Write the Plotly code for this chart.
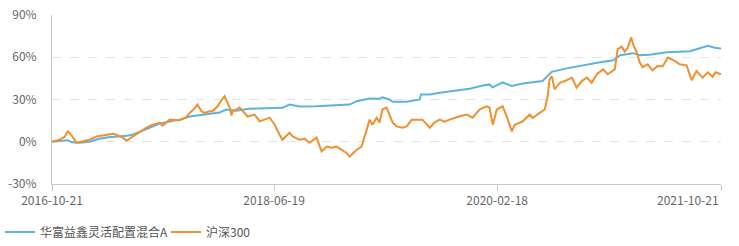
import plotly.graph_objects as go

fund_name = "华富益鑫灵活配置混合A"
index_name = "沪深300"

fund_dates = [
    "2016-10-21", "2016-11-11", "2016-12-03", "2016-12-14", "2017-01-05", "2017-01-31",
    "2017-02-26", "2017-03-25", "2017-04-21", "2017-05-13", "2017-05-29", "2017-06-17",
    "2017-07-06", "2017-07-22", "2017-08-11", "2017-09-07", "2017-10-04", "2017-11-01",
    "2017-11-28", "2017-12-17", "2018-01-07", "2018-01-21", "2018-02-09", "2018-03-08",
    "2018-04-11", "2018-05-22", "2018-07-12", "2018-07-31", "2018-08-28", "2018-10-13",
    "2018-12-07", "2019-01-11", "2019-01-31", "2019-03-07", "2019-04-03", "2019-04-11",
    "2019-04-30", "2019-05-09", "2019-06-16", "2019-07-22", "2019-07-25", "2019-08-18",
    "2019-09-14", "2019-10-19", "2019-12-05", "2020-01-10", "2020-01-28", "2020-02-06",
    "2020-03-04", "2020-03-29", "2020-04-28", "2020-06-21", "2020-07-05", "2020-07-16",
    "2020-08-26", "2020-10-09", "2020-11-25", "2020-12-31", "2021-01-19", "2021-02-23",
    "2021-03-13", "2021-04-09", "2021-05-26", "2021-07-28", "2021-08-24", "2021-09-15",
    "2021-10-04", "2021-10-21",
]
fund_returns = [
    0.0, 0.4, 1.1, -0.4, -0.7, 0.0,
    2.1, 3.2, 3.6, 4.3, 5.0, 7.1,
    9.3, 10.7, 12.9, 14.3, 15.7, 17.9,
    18.9, 19.3, 20.0, 20.7, 22.9, 22.1,
    23.4, 23.6, 24.1, 26.4, 25.0, 25.2,
    25.9, 26.4, 28.8, 30.7, 30.5, 31.6,
    30.0, 28.4, 28.4, 30.0, 33.6, 33.6,
    34.8, 35.9, 37.6, 40.0, 40.7, 38.6,
    42.1, 39.6, 41.4, 43.1, 46.6, 49.6,
    52.1, 54.3, 56.4, 57.9, 61.4, 62.9,
    61.4, 61.8, 63.6, 64.3, 66.4, 68.1,
    66.8, 66.2,
]

index_dates = [
    "2016-10-21", "2016-11-11", "2016-11-25", "2016-12-03", "2016-12-14", "2016-12-27",
    "2017-01-12", "2017-01-31", "2017-02-20", "2017-03-14", "2017-04-05", "2017-04-15",
    "2017-05-02", "2017-05-13", "2017-05-29", "2017-06-17", "2017-07-06", "2017-07-22",
    "2017-08-11", "2017-08-19", "2017-09-07", "2017-10-04", "2017-10-21", "2017-11-01",
    "2017-11-14", "2017-11-22", "2017-12-03", "2017-12-11", "2017-12-25", "2018-01-02",
    "2018-01-16", "2018-01-24", "2018-01-30", "2018-02-04", "2018-02-10", "2018-02-18",
    "2018-02-23", "2018-02-26", "2018-03-17", "2018-03-31", "2018-04-08", "2018-04-27",
    "2018-05-11", "2018-06-07", "2018-06-21", "2018-07-04", "2018-07-12", "2018-07-31",
    "2018-08-09", "2018-08-28", "2018-09-11", "2018-09-24", "2018-10-13", "2018-10-27",
    "2018-11-10", "2018-11-23", "2018-12-07", "2018-12-21", "2019-01-03", "2019-01-11",
    "2019-01-31", "2019-02-13", "2019-02-21", "2019-03-01", "2019-03-07", "2019-03-15",
    "2019-03-26", "2019-04-03", "2019-04-11", "2019-04-22", "2019-04-30", "2019-05-09",
    "2019-05-20", "2019-06-05", "2019-06-16", "2019-06-30", "2019-07-13", "2019-07-29",
    "2019-08-18", "2019-08-31", "2019-09-14", "2019-09-28", "2019-10-11", "2019-10-25",
    "2019-11-08", "2019-11-27", "2019-12-13", "2020-01-01", "2020-01-20", "2020-01-28",
    "2020-02-06", "2020-02-17", "2020-03-04", "2020-03-15", "2020-03-23", "2020-03-29",
    "2020-04-06", "2020-04-28", "2020-05-17", "2020-05-25", "2020-06-13", "2020-06-27",
    "2020-07-05", "2020-07-10", "2020-07-16", "2020-07-24", "2020-08-07", "2020-08-21",
    "2020-09-09", "2020-09-22", "2020-10-06", "2020-10-20", "2020-11-02", "2020-11-16",
    "2020-12-03", "2020-12-16", "2021-01-04", "2021-01-12", "2021-01-23", "2021-01-31",
    "2021-02-08", "2021-02-18", "2021-02-23", "2021-03-05", "2021-03-13", "2021-03-21",
    "2021-04-04", "2021-04-17", "2021-05-01", "2021-05-15", "2021-05-29", "2021-06-17",
    "2021-06-30", "2021-07-19", "2021-08-02", "2021-08-15", "2021-09-01", "2021-09-15",
    "2021-09-28", "2021-10-06", "2021-10-21",
]
index_returns = [
    0.2, 1.4, 3.6, 7.4, 4.3, -0.7,
    0.2, 1.4, 3.8, 5.0, 5.7, 5.0,
    2.9, 0.9, 3.6, 7.4, 10.0, 12.1,
    13.4, 11.4, 15.7, 15.2, 17.1, 20.5,
    23.6, 26.4, 21.6, 20.5, 21.6, 21.6,
    25.2, 28.6, 31.2, 32.4, 28.8, 24.3,
    18.6, 21.6, 24.3, 20.0, 17.9, 19.3,
    14.5, 17.1, 12.1, 5.0, 1.4, 6.4,
    3.8, 1.4, 2.1, -0.7, 2.9, -6.9,
    -3.4, -4.3, -3.4, -5.7, -7.9, -10.5,
    -5.7, -3.4, 3.8, 10.9, 15.7, 12.1,
    17.1, 13.6, 22.9, 24.3, 19.3, 13.6,
    10.9, 10.0, 10.9, 15.7, 15.7, 15.7,
    10.0, 13.6, 15.7, 14.3, 15.7, 17.1,
    18.1, 19.3, 17.1, 22.9, 25.2, 24.3,
    12.1, 22.9, 25.2, 18.1, 10.9, 7.4,
    12.1, 14.5, 19.3, 16.9, 20.5, 22.9,
    32.4, 44.3, 46.6, 37.1, 41.9, 43.1,
    45.5, 38.4, 43.1, 45.5, 41.9, 47.9,
    51.4, 47.9, 51.4, 65.7, 67.5, 64.0,
    66.4, 74.1, 69.3, 63.4, 56.4, 52.9,
    55.0, 50.7, 53.8, 53.6, 59.8, 57.4,
    55.0, 54.3, 43.6, 50.2, 45.5, 49.3,
    46.1, 49.3, 47.9,
]

tick_dates = ["2016-10-21", "2018-06-19", "2020-02-18", "2021-10-21"]
y_ticks = [-30, 0, 30, 60, 90]

FONT = "Noto Sans CJK SC, Noto Sans, sans-serif"
fig = go.Figure()
fig.add_trace(go.Scatter(x=fund_dates, y=fund_returns, mode="lines", name=fund_name,
                         line=dict(color="#5cb3e0", width=2)))
fig.add_trace(go.Scatter(x=index_dates, y=index_returns, mode="lines", name=index_name,
                         line=dict(color="#f0902f", width=2)))

fig.update_layout(
    width=739, height=246,
    margin=dict(l=52, r=18, t=15, b=62, autoexpand=False),
    paper_bgcolor="white", plot_bgcolor="white",
    font=dict(family=FONT, size=12, color="#666"),
    showlegend=True,
    legend=dict(orientation="h", xref="container", yref="container",
                x=0.0, xanchor="left", y=14 / 246, yanchor="middle",
                font=dict(size=12, color="#555"), itemwidth=30,
                entrywidth=121, entrywidthmode="pixels",
                bgcolor="rgba(0,0,0,0)"),
)
fig.update_xaxes(
    type="date", range=[tick_dates[0], tick_dates[-1]],
    tickvals=tick_dates, ticktext=tick_dates[:-1] + [""],
    showgrid=False, showline=True, linecolor="#c8c8c8", linewidth=1,
    ticks="outside", ticklen=6, tickcolor="#c8c8c8",
    tickfont=dict(size=12, color="#666"), zeroline=False, automargin=False,
)
fig.update_yaxes(
    range=[-30, 90], tickvals=y_ticks, ticktext=[f"{v}%" for v in y_ticks],
    showgrid=True, gridcolor="#e3e3e3", griddash="dash", gridwidth=1,
    showline=True, linecolor="#c8c8c8", linewidth=1,
    zeroline=False, ticks="", ticklabelstandoff=12,
    tickfont=dict(size=12, color="#666"), automargin=False,
)
fig.add_annotation(x=tick_dates[-1], y=0, xref="x", yref="paper", yshift=-5,
                   text=tick_dates[-1], showarrow=False, xanchor="right", yanchor="top",
                   font=dict(size=12, color="#666", family=FONT))

fig.write_html("out.html")
